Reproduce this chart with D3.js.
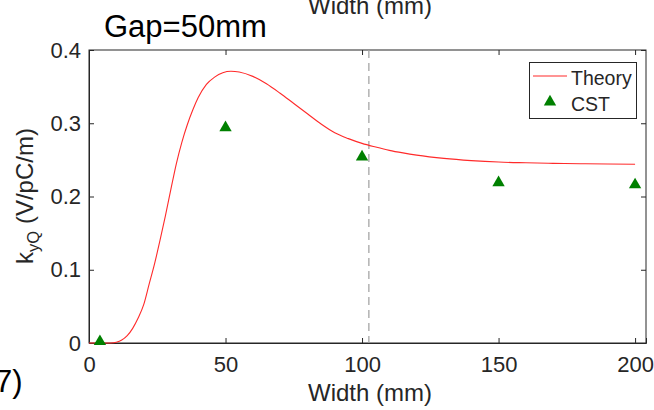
<!DOCTYPE html>
<html>
<head>
<meta charset="utf-8">
<script src="https://cdn.jsdelivr.net/npm/d3@7"></script>
<style>
  html, body { margin: 0; padding: 0; background: #fff; }
  svg { display: block; }
  text { font-family: "Liberation Sans", Arial, sans-serif; fill: #262626; }
</style>
</head>
<body>
<svg id="chart" width="654" height="410"></svg>
<script>
// Theory curve of the transverse kick factor versus width (Gap = 50 mm)
const theoryWidth = [0, 5, 8, 10, 12, 14, 16, 18, 20, 22, 24, 26, 28, 30, 32, 34, 36, 38, 40, 43, 46, 49, 52, 55, 60, 65, 70, 75, 80, 85, 90, 95, 100, 105, 110, 115, 120, 130, 140, 150, 160, 170, 180, 190, 200];
const theoryKyQ   = [0, 0, 0, 0.001, 0.004, 0.010, 0.020, 0.034, 0.052, 0.080, 0.108, 0.140, 0.174, 0.210, 0.245, 0.274, 0.298, 0.318, 0.335, 0.353, 0.363, 0.369, 0.371, 0.370, 0.364, 0.354, 0.341, 0.327, 0.313, 0.299, 0.287, 0.279, 0.2725, 0.2675, 0.263, 0.2595, 0.2565, 0.252, 0.249, 0.247, 0.246, 0.2452, 0.2447, 0.2443, 0.244];

// CST simulation points
const cstWidth = [4, 50, 100, 150, 200];
const cstKyQ   = [0.002, 0.294, 0.254, 0.219, 0.216];

// Reference width marked by the dashed line
const markerWidth = 102.5;

const xTicks = [0, 50, 100, 150, 200];
const yTicks = [0, 0.1, 0.2, 0.3, 0.4];

const svg = d3.select("#chart");
const m = { left: 89, right: 646, top: 50, bottom: 343 };

const x = d3.scaleLinear().domain([0, 204]).range([m.left, m.right]);
const y = d3.scaleLinear().domain([0, 0.4]).range([m.bottom, m.top]);

const axisColor = "#262626";
const tickFont = 22;
const labelFont = 24;

// Plot frame
svg.append("rect")
  .attr("x", m.left).attr("y", m.top)
  .attr("width", m.right - m.left).attr("height", m.bottom - m.top)
  .attr("fill", "none").attr("stroke", axisColor).attr("stroke-width", 1);

// Axes with inward ticks
const tickLen = 5;
const xAxis = d3.axisBottom(x).tickValues(xTicks).tickSize(-tickLen).tickPadding(13).tickFormat(d3.format("d"));
const yAxis = d3.axisLeft(y).tickValues(yTicks).tickSize(-tickLen).tickPadding(8).tickFormat(d => d === 0 ? "0" : d3.format(".1f")(d));

const gx = svg.append("g").attr("transform", `translate(0,${m.bottom})`).call(xAxis);
const gy = svg.append("g").attr("transform", `translate(${m.left},0)`).call(yAxis);
[gx, gy].forEach(g => {
  g.select(".domain").attr("stroke", axisColor);
  g.selectAll(".tick line").attr("stroke", axisColor);
  g.selectAll(".tick text").attr("font-size", tickFont).attr("fill", axisColor)
    .attr("font-family", "'Liberation Sans', Arial, sans-serif");
});

// Mirror ticks on top and right edges
svg.append("g").attr("transform", `translate(0,${m.top})`)
  .call(d3.axisTop(x).tickValues(xTicks).tickSize(-tickLen).tickFormat(""))
  .call(g => { g.select(".domain").remove(); g.selectAll(".tick line").attr("stroke", axisColor); });
svg.append("g").attr("transform", `translate(${m.right},0)`)
  .call(d3.axisRight(y).tickValues(yTicks).tickSize(-tickLen).tickFormat(""))
  .call(g => { g.select(".domain").remove(); g.selectAll(".tick line").attr("stroke", axisColor); });

// Dashed reference line
svg.append("line")
  .attr("x1", x(markerWidth)).attr("x2", x(markerWidth))
  .attr("y1", m.top).attr("y2", m.bottom)
  .attr("stroke", "#a6a6a6").attr("stroke-width", 1.3)
  .attr("stroke-dasharray", "8,5");

// Theory curve
const theory = theoryWidth.map((w, i) => [w, theoryKyQ[i]]);
svg.append("path")
  .datum(theory)
  .attr("fill", "none")
  .attr("stroke", "#ff2a2a")
  .attr("stroke-width", 1.1)
  .attr("d", d3.line().x(d => x(d[0])).y(d => y(d[1])).curve(d3.curveMonotoneX));

// CST markers
const tri = d3.symbol().type(d3.symbolTriangle).size(66);
svg.append("g").selectAll("path")
  .data(cstWidth.map((w, i) => [w, cstKyQ[i]]))
  .join("path")
  .attr("d", tri)
  .attr("transform", d => `translate(${x(d[0])},${y(d[1])})`)
  .attr("fill", "#008000");

// Legend
const lg = svg.append("g");
lg.append("rect").attr("x", 529.5).attr("y", 62.5).attr("width", 107).attr("height", 56)
  .attr("fill", "#fff").attr("stroke", axisColor).attr("stroke-width", 1);
lg.append("line").attr("x1", 533).attr("x2", 567).attr("y1", 76).attr("y2", 76)
  .attr("stroke", "#ff2a2a").attr("stroke-width", 1.1);
lg.append("text").attr("x", 571).attr("y", 85).attr("font-size", 19.5).text("Theory");
lg.append("path").attr("d", tri).attr("transform", "translate(550,102)").attr("fill", "#008000");
lg.append("text").attr("x", 571).attr("y", 111).attr("font-size", 19.5).text("CST");

// Axis titles
svg.append("text").attr("x", 370).attr("y", 401)
  .attr("text-anchor", "middle").attr("font-size", labelFont).text("Width (mm)");

const yl = svg.append("text")
  .attr("transform", `translate(33,196) rotate(-90)`)
  .attr("text-anchor", "middle").attr("font-size", labelFont);
yl.append("tspan").text("k");
yl.append("tspan").attr("font-size", 16.5).attr("dy", 6).text("yQ");
yl.append("tspan").attr("dy", -6).text(" (V/pC/m)");

// Cropped title of the panel above, and panel annotations
svg.append("text").attr("x", 370).attr("y", 14).attr("text-anchor", "middle")
  .attr("font-size", labelFont).text("Width (mm)");
svg.append("text").attr("x", 104).attr("y", 37)
  .attr("font-family", "Lato, 'Open Sans', sans-serif").attr("font-size", 31)
  .style("fill", "#000").text("Gap=50mm");
svg.append("text").attr("x", -5).attr("y", 392)
  .attr("font-family", "Lato, 'Open Sans', sans-serif").attr("font-size", 31)
  .style("fill", "#000").text("7)");
</script>
</body>
</html>
